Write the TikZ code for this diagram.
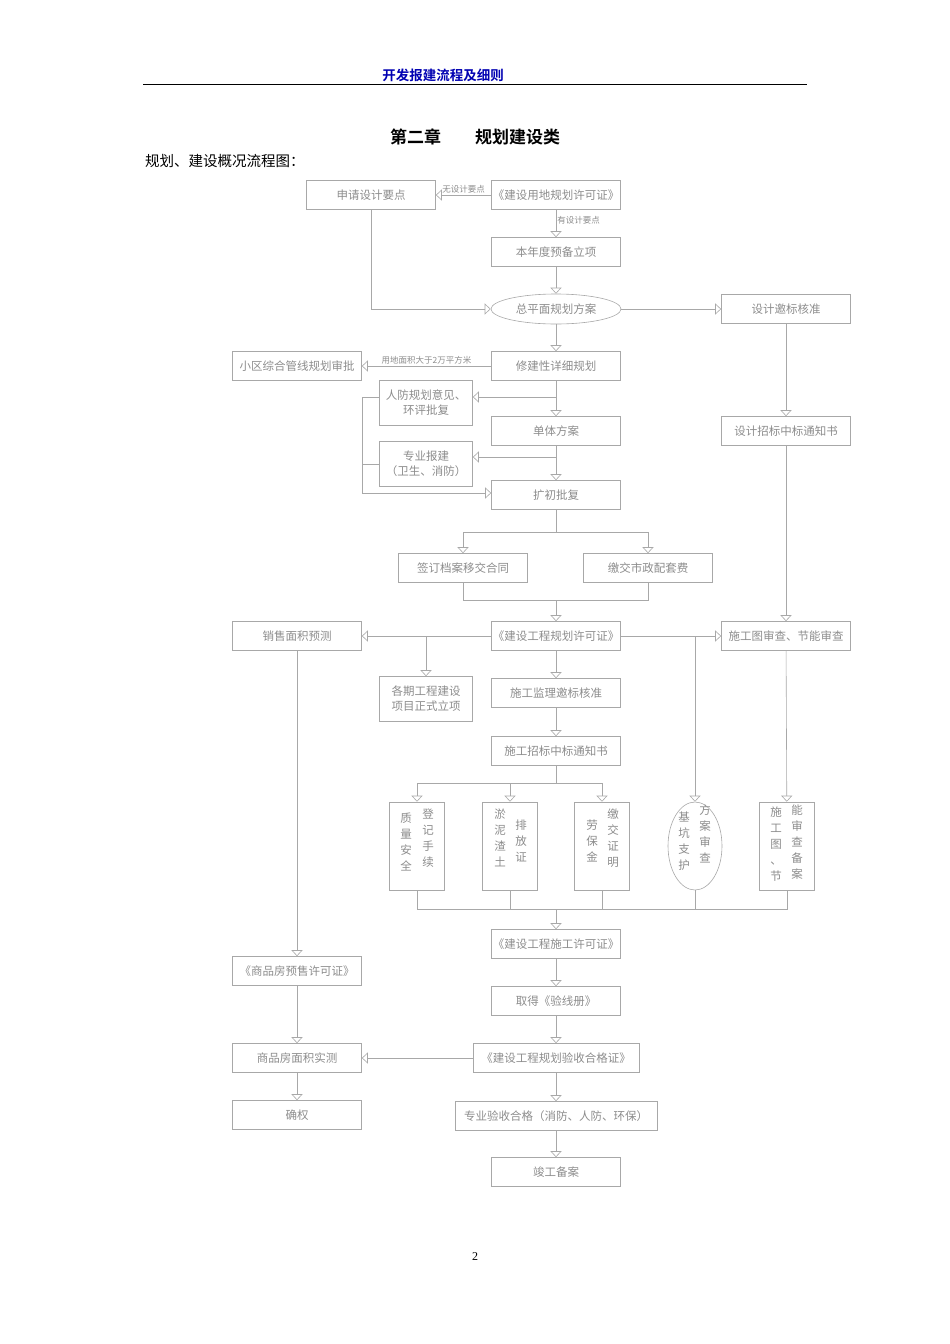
\documentclass[tikz,border=0pt]{standalone}
\usepackage{fontspec}
\setmainfont{Liberation Serif}
\newfontfamily\cjk{Noto Sans CJK SC}
\newfontfamily\cjkb{Noto Sans CJK SC Bold}
\usetikzlibrary{arrows.meta,shapes.geometric,positioning}
\definecolor{ln}{HTML}{A8A8A8}
\definecolor{tx}{HTML}{8C8C8C}
\begin{document}
\begin{tikzpicture}[x=1pt,y=-1pt,
  bx/.style={draw=ln,line width=0.6pt,minimum width=129pt,minimum height=29pt,inner sep=0pt,text=tx,font=\cjk\fontsize{11.5}{13}\selectfont},
  sbx/.style={bx,minimum width=93pt,minimum height=45pt,align=center,font=\cjk\fontsize{11.5}{15}\selectfont},
  vbx/.style={draw=ln,line width=0.6pt,minimum width=55pt,minimum height=88pt,inner sep=0pt},
  vt/.style={text=tx,font=\cjk\fontsize{11.5}{16}\selectfont,align=center,inner sep=0pt,anchor=north},
  lab/.style={text=tx,font=\cjk\fontsize{8.5}{9}\selectfont,inner sep=1pt},
  ar/.style={draw=ln,line width=0.6pt,-{Triangle[open,width=11pt,length=6pt]}},
  cn/.style={draw=ln,line width=0.6pt}]
\useasboundingbox (0,0) rectangle (950,1344);
% header
\node[text=blue!70!black,font=\cjkb\fontsize{13.5}{15}\selectfont] (hdr) at (443,75) {开发报建流程及细则};
\draw[black,line width=0.6pt] (143,84) -- (807,84);
\node[font=\cjkb\fontsize{17}{19}\selectfont] (ttl) at (475,137) {第二章\hspace{2em}规划建设类};
\node[font=\cjk\fontsize{14.5}{16}\selectfont,anchor=west,inner sep=0pt] (sub) at (145,161) {规划、建设概况流程图：};
\node[font=\fontsize{12}{14}\selectfont] (pg) at (475,1257) {2};
% nodes
\node[bx] (sq) at (371,195) {申请设计要点};
\node[bx] (yd) at (556,195) {《建设用地规划许可证》};
\node[bx] (bn) at (556,252) {本年度预备立项};
\node[bx,ellipse,minimum width=130pt,minimum height=30pt] (zp) at (556,309) {总平面规划方案};
\node[bx] (sj) at (786,309) {设计邀标核准};
\node[bx] (xj) at (556,366) {修建性详细规划};
\node[bx] (xq) at (297,366) {小区综合管线规划审批};
\node[sbx] (rf) at (426,403) {人防规划意见、\\环评批复};
\node[bx] (dt) at (556,431) {单体方案};
\node[sbx] (zy) at (426,464) {专业报建\\（卫生、消防）};
\node[bx] (kc) at (556,495) {扩初批复};
\node[bx] (zb) at (786,431) {设计招标中标通知书};
\node[bx] (qd) at (463,568) {签订档案移交合同};
\node[bx] (jj) at (648,568) {缴交市政配套费};
\node[bx] (gh) at (556,636) {《建设工程规划许可证》};
\node[bx] (xs) at (297,636) {销售面积预测};
\node[bx] (sg) at (786,636) {施工图审查、节能审查};
\node[sbx] (gq) at (426,699) {各期工程建设\\项目正式立项};
\node[bx] (jl) at (556,693) {施工监理邀标核准};
\node[bx] (sz) at (556,751) {施工招标中标通知书};
\node[vbx] (v1) at (417,846) {};
\node[vbx] (v2) at (510,846) {};
\node[vbx] (v3) at (602,846) {};
\node[vbx,ellipse,minimum width=54pt,minimum height=88pt] (v4) at (695,846) {};
\node[vbx] (v5) at (787,846) {};
\node[vt] (t1a) at (406,813) {质\\量\\安\\全};
\node[vt] (t1b) at (428,809) {登\\记\\手\\续};
\node[vt] (t2a) at (500,809) {淤\\泥\\渣\\土};
\node[vt] (t2b) at (521,820) {排\\放\\证};
\node[vt] (t3a) at (592,820) {劳\\保\\金};
\node[vt] (t3b) at (613,809) {缴\\交\\证\\明};
\node[vt] (t4a) at (684,812) {基\\坑\\支\\护};
\node[vt] (t4b) at (705,805) {方\\案\\审\\查};
\node[vt] (t5a) at (776,807) {施\\工\\图\\、\\节};
\node[vt] (t5b) at (797,805) {能\\审\\查\\备\\案};
\node[bx] (sgx) at (556,944) {《建设工程施工许可证》};
\node[bx] (ys) at (297,971) {《商品房预售许可证》};
\node[bx] (yx) at (556,1001) {取得《验线册》};
\node[bx,minimum width=166pt] (hg) at (556,1058) {《建设工程规划验收合格证》};
\node[bx] (ms) at (297,1058) {商品房面积实测};
\node[bx] (qq) at (297,1115) {确权};
\node[bx,minimum width=202pt] (zyys) at (556,1116) {专业验收合格（消防、人防、环保）};
\node[bx] (jg) at (556,1172) {竣工备案};
% coordinates
\coordinate (c1) at (371,309);
\coordinate (b1) at (556,397);
\coordinate (b2) at (556,457);
\coordinate (l1) at (362,397);
\coordinate (l2) at (362,493);
\coordinate (l3) at (362,464);
\coordinate (k1) at (556,532);
\coordinate (k2) at (463,532);
\coordinate (k3) at (648,532);
\coordinate (k4) at (463,600);
\coordinate (k5) at (648,600);
\coordinate (k6) at (556,600);
\coordinate (g1) at (426,636);
\coordinate (g2) at (695,636);
\coordinate (s1) at (556,783);
\coordinate (s2) at (417,783);
\coordinate (s3) at (602,783);
\coordinate (s4) at (510,783);
\coordinate (j1) at (417,909);
\coordinate (j2) at (787,909);
\coordinate (j3) at (556,909);
% connectors
\draw[ar] (yd) -- node[lab,above]{无设计要点} (sq);
\draw[ar] (yd) -- node[lab,right,pos=0.4]{有设计要点} (bn);
\draw[ar] (bn) -- (zp);
\draw[cn] (sq) -- (c1);
\draw[ar] (c1) -- (zp);
\draw[ar] (zp) -- (sj);
\draw[ar] (zp) -- (xj);
\draw[ar] (xj) -- node[lab,above]{用地面积大于2万平方米} (xq);
\draw[ar] (xj) -- (dt);
\draw[ar] (b1) -- (b1 -| rf.east);
\draw[ar] (dt) -- (kc);
\draw[ar] (b2) -- (b2 -| zy.east);
\draw[cn] (l1 -| rf.west) -- (l1) -- (l2);
\draw[cn] (l3 -| zy.west) -- (l3);
\draw[ar] (l2) -- (l2 -| kc.west);
\draw[ar] (sj) -- (zb);
\draw[ar] (zb) -- (sg);
\draw[cn] (kc) -- (k1);
\draw[cn] (k2) -- (k3);
\draw[ar] (k2) -- (qd);
\draw[ar] (k3) -- (jj);
\draw[cn] (qd) -- (k4) -- (k5) -- (jj);
\draw[ar] (k6) -- (gh);
\draw[ar] (gh) -- (xs);
\draw[ar] (gh) -- (sg);
\draw[ar] (g1) -- (gq);
\draw[ar] (g2) -- (v4);
\draw[ar] (gh) -- (jl);
\draw[ar] (jl) -- (sz);
\draw[cn] (sz) -- (s1);
\draw[cn] (s2) -- (s3);
\draw[ar] (s2) -- (v1);
\draw[ar] (s4) -- (v2);
\draw[ar] (s3) -- (v3);
\draw[ar] (sg) -- (v5);
\draw[cn] (v1) -- (j1) -- (j2) -- (v5);
\draw[cn] (v2) -- (v2 |- j1);
\draw[cn] (v3) -- (v3 |- j1);
\draw[cn] (v4) -- (v4 |- j1);
\draw[ar] (j3) -- (sgx);
\draw[ar] (sgx) -- (yx);
\draw[ar] (yx) -- (hg);
\draw[ar] (hg) -- (ms);
\draw[ar] (hg) -- (zyys);
\draw[ar] (zyys) -- (jg);
\draw[ar] (xs) -- (ys);
\draw[ar] (ys) -- (ms);
\draw[ar] (ms) -- (qq);
\end{tikzpicture}
\end{document}
